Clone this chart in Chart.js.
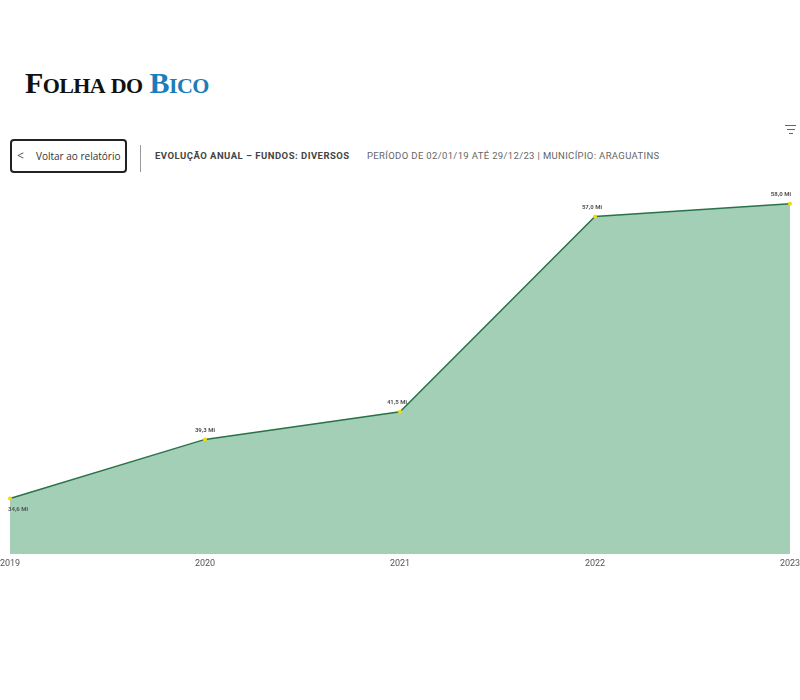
<!DOCTYPE html>
<html>
<head>
<meta charset="utf-8">
<script src="https://cdn.jsdelivr.net/npm/chart.js@4.4.1/dist/chart.umd.min.js"></script>
<style>
  html, body { margin: 0; padding: 0; background: #fff; }
  body { width: 800px; height: 700px; position: relative; overflow: hidden; }
  .brand { position: absolute; left: 25px; top: 63px; font-family: "Liberation Serif", serif; font-weight: bold; color: #111; white-space: nowrap; line-height: 40px; letter-spacing: -0.6px; word-spacing: 2px; }
  .brand .big { font-size: 30px; }
  .brand .sm { font-size: 22px; }
  .brand .blue { color: #1b7db9; }
  .back { position: absolute; left: 10px; top: 139px; width: 113px; height: 30px; border: 2px solid #222; border-radius: 4px; font-family: "Open Sans", sans-serif; font-size: 10px; color: #333; white-space: nowrap; }
  .back .chev { position: absolute; left: 5px; top: 6px; font-size: 12px; color: #555; }
  .back .txt { position: absolute; left: 24px; top: 8px; }
  .sep { position: absolute; left: 140px; top: 145px; width: 1px; height: 27px; background: #999; }
  .head { position: absolute; top: 150px; font-family: Roboto, sans-serif; font-size: 9.5px; white-space: nowrap; }
  .head.t1 { left: 155px; font-weight: bold; color: #444; letter-spacing: 0.48px; }
  .head.t2 { left: 367px; color: #666; letter-spacing: 0.35px; }
  .filter { position: absolute; left: 785px; top: 125px; }
  .filter div { height: 1px; background: #666; margin: 0 auto 3px auto; }
  #wrap { position: absolute; left: 0; top: 180px; width: 800px; height: 394px; }
</style>
</head>
<body>
<div class="brand"><span class="big">F</span><span class="sm">OLHA DO </span><span class="big blue">B</span><span class="sm blue">ICO</span></div>
<div class="back"><span class="chev">&lt;</span><span class="txt">Voltar ao relatório</span></div>
<div class="sep"></div>
<div class="head t1">EVOLUÇÃO ANUAL – FUNDOS: DIVERSOS</div>
<div class="head t2">PERÍODO DE 02/01/19 ATÉ 29/12/23 | MUNICÍPIO: ARAGUATINS</div>
<div class="filter"><div style="width:11px"></div><div style="width:8px"></div><div style="width:4px"></div></div>
<div id="wrap"><canvas id="chart"></canvas></div>
<script>
const years = ['2019', '2020', '2021', '2022', '2023'];
const values = [34.6, 39.3, 41.5, 57.0, 58.0];
const valueLabels = ['34,6 Mi', '39,3 Mi', '41,5 Mi', '57,0 Mi', '58,0 Mi'];

const pointLabels = {
  id: 'pointLabels',
  afterDatasetsDraw(chart) {
    const ctx = chart.ctx;
    const area = chart.chartArea;
    const meta = chart.getDatasetMeta(0);
    ctx.save();
    ctx.font = 'bold 6px Roboto, sans-serif';
    ctx.fillStyle = '#555';
    ctx.textAlign = 'center';
    ctx.textBaseline = 'middle';
    meta.data.forEach((pt, i) => {
      const text = valueLabels[i];
      const w = ctx.measureText(text).width;
      let x = pt.x - (i === 2 || i === 3 ? 3 : 0);
      x = Math.max(area.left - 2 + w / 2, Math.min(area.right + 1 - w / 2, x));
      const y = i === 0 ? pt.y + 11 : pt.y - 9;
      ctx.fillText(text, x, y);
    });
    ctx.restore();
  }
};

const ctx = document.getElementById('chart').getContext('2d');
new Chart(ctx, {
  type: 'line',
  data: {
    labels: years,
    datasets: [{
      label: 'Valor',
      data: values,
      fill: 'start',
      backgroundColor: '#a2cfb5',
      borderColor: '#2a7349',
      borderWidth: 1.5,
      tension: 0,
      pointRadius: 2,
      pointBorderWidth: 0,
      pointBackgroundColor: '#f5d90a',
      pointHoverRadius: 2
    }]
  },
  options: {
    responsive: true,
    maintainAspectRatio: false,
    animation: false,
    layout: { padding: { left: 10, right: 10, top: 10, bottom: 0 } },
    scales: {
      x: {
        offset: false,
        grid: { display: false, drawTicks: false },
        border: { display: false },
        ticks: {
          color: '#555',
          font: { family: 'Roboto, sans-serif', size: 9 },
          padding: 4,
          maxRotation: 0,
          autoSkip: false
        },
        afterFit: (axis) => {
          axis.height = 20;
          axis.paddingLeft = 0;
          axis.paddingRight = 0;
        }
      },
      y: {
        display: false,
        min: 30.2,
        max: 59.1
      }
    },
    plugins: {
      legend: { display: false },
      tooltip: { enabled: false }
    }
  },
  plugins: [pointLabels]
});
</script>
</body>
</html>
